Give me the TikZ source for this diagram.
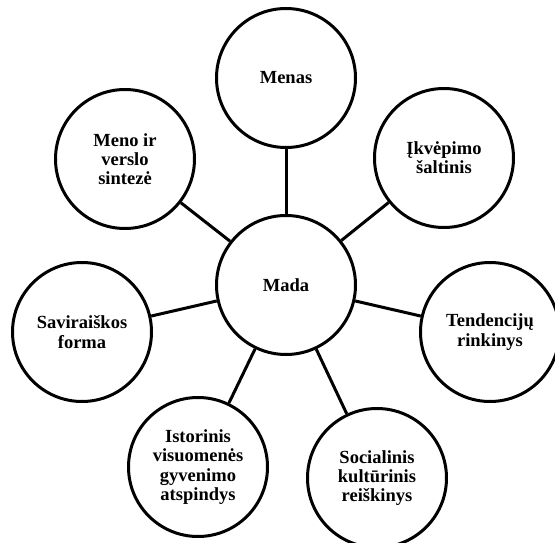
\documentclass[tikz,border=0pt]{standalone}
\usepackage{fontspec}
\setmainfont{Liberation Serif}

\begin{document}
\begin{tikzpicture}[x=1pt,y=-1pt,
    bubble/.style={draw,circle,line width=3pt,minimum size=139pt,inner sep=0pt,align=center,
        font=\bfseries\fontsize{18.5}{19.2}\selectfont},
    link/.style={line width=3pt}]
    \clip (0,0) rectangle (555,543);
    \node[bubble] (mada) at (286,285) {Mada};
    \node[bubble] (menas) at (286,78) {Menas};
    \node[bubble] (meno) at (125,159) {Meno ir\\verslo\\sintezė};
    \node[bubble] (ikvepimo) at (444,158) {Įkvėpimo\\šaltinis};
    \node[bubble] (saviraiskos) at (82,332) {Saviraiškos\\forma};
    \node[bubble] (tendenciju) at (490,332) {Tendencijų\\rinkinys};
    \node[bubble] (istorinis) at (198,467) {Istorinis\\visuomenės\\gyvenimo\\atspindys};
    \node[bubble] (socialinis) at (377,478) {Socialinis\\kultūrinis\\reiškinys};
    % spokes
    \draw[link] (mada) -- (menas);
    \draw[link] (mada) -- (meno);
    \draw[link] (mada) -- (ikvepimo);
    \draw[link] (mada) -- (saviraiskos);
    \draw[link] (mada) -- (tendenciju);
    \draw[link] (mada) -- (istorinis);
    \draw[link] (mada) -- (socialinis);
\end{tikzpicture}
\end{document}
